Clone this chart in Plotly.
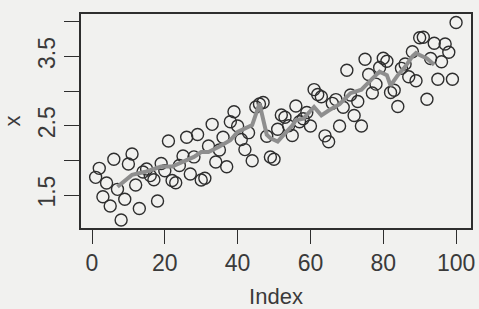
import plotly.graph_objects as go

# observed series x (index 1..100)
x_values = [
    1.755, 1.885, 1.475, 1.673, 1.341, 2.015, 1.582, 1.139, 1.438, 1.947,
    2.092, 1.644, 1.305, 1.832, 1.875, 1.780, 1.720, 1.413, 1.955, 1.850,
    2.279, 1.709, 1.677, 1.926, 2.063, 2.333, 1.803, 2.050, 2.373, 1.716,
    1.741, 2.207, 2.520, 1.976, 2.150, 2.333, 1.908, 2.558, 2.702, 2.496,
    2.300, 2.155, 2.400, 1.995, 2.770, 2.813, 2.835, 2.347, 2.048, 2.017,
    2.450, 2.654, 2.623, 2.500, 2.359, 2.784, 2.558, 2.600, 2.690, 2.496,
    3.021, 2.950, 2.918, 2.354, 2.269, 2.823, 2.877, 2.496, 2.766, 3.300,
    2.943, 2.647, 2.850, 2.496, 3.458, 3.239, 2.972, 3.100, 3.340, 3.473,
    3.431, 2.979, 3.011, 2.777, 3.328, 3.390, 3.207, 3.568, 3.148, 3.770,
    3.776, 2.881, 3.470, 3.689, 3.171, 3.423, 3.679, 3.561, 3.170, 3.990,
]
index = list(range(1, len(x_values) + 1))

# smoothed line (grey)
line_index = [7, 11, 15, 19, 22, 24, 28, 30, 32, 35, 38, 40, 42, 44, 46, 48,
              49, 51, 53, 55, 56, 58, 61, 63, 65, 68, 71, 74, 77, 79, 81, 82,
              84, 86, 88, 89, 90, 92, 94]
line_values = [1.62, 1.79, 1.84, 1.91, 1.91, 1.96, 2.05, 2.12, 2.12, 2.20,
               2.29, 2.41, 2.46, 2.51, 2.82, 2.37, 2.32, 2.27, 2.39, 2.50,
               2.58, 2.60, 2.77, 2.65, 2.72, 2.81, 2.97, 3.02, 3.18, 3.28,
               3.23, 3.08, 3.23, 3.35, 3.50, 3.55, 3.52, 3.47, 3.38]

x_ticks = [0, 20, 40, 60, 80, 100]
y_ticks = [1.5, 2.0, 2.5, 3.0, 3.5, 4.0]
y_ticktext = ["1.5", "", "2.5", "", "3.5", ""]

ink = "#2e2e2e"
bg = "#f1f1ef"
font = "Liberation Sans, Arial, sans-serif"

fig = go.Figure()
fig.add_trace(go.Scatter(
    x=index, y=x_values, mode="markers",
    marker=dict(symbol="circle-open", size=12, color=ink, line=dict(width=1.4, color=ink)),
    showlegend=False, hoverinfo="skip",
))
fig.add_trace(go.Scatter(
    x=line_index, y=line_values, mode="lines",
    line=dict(color="#8e8e8e", width=4),
    showlegend=False, hoverinfo="skip",
))

fig.update_layout(
    width=479, height=309,
    margin=dict(l=81, r=8, t=14, b=81),
    paper_bgcolor=bg, plot_bgcolor=bg,
    font=dict(family=font, size=23, color="#3a3a3a"),
    xaxis=dict(
        range=[-3.02, 104.1], tickvals=x_ticks, ticks="outside", ticklen=14,
        tickwidth=1.3, tickcolor=ink, showgrid=False, zeroline=False,
        showline=True, linecolor=ink, linewidth=1.5, mirror=True,
        ticklabeloverflow="allow", automargin=False,
        title=dict(text="Index", standoff=14, font=dict(size=22)),
    ),
    yaxis=dict(
        range=[1.024, 4.112], tickvals=y_ticks, ticktext=y_ticktext,
        ticks="outside", ticklen=15, tickwidth=1.3, tickcolor=ink, tickangle=-90,
        ticklabelstandoff=0, ticklabeloverflow="allow", automargin=False,
        showgrid=False, zeroline=False,
        showline=True, linecolor=ink, linewidth=1.5, mirror=True,
        title=dict(text="x", standoff=10, font=dict(size=22)),
    ),
)

fig.write_html("out.html", config={"displayModeBar": False},
               post_script="document.body.style.margin='0';")
